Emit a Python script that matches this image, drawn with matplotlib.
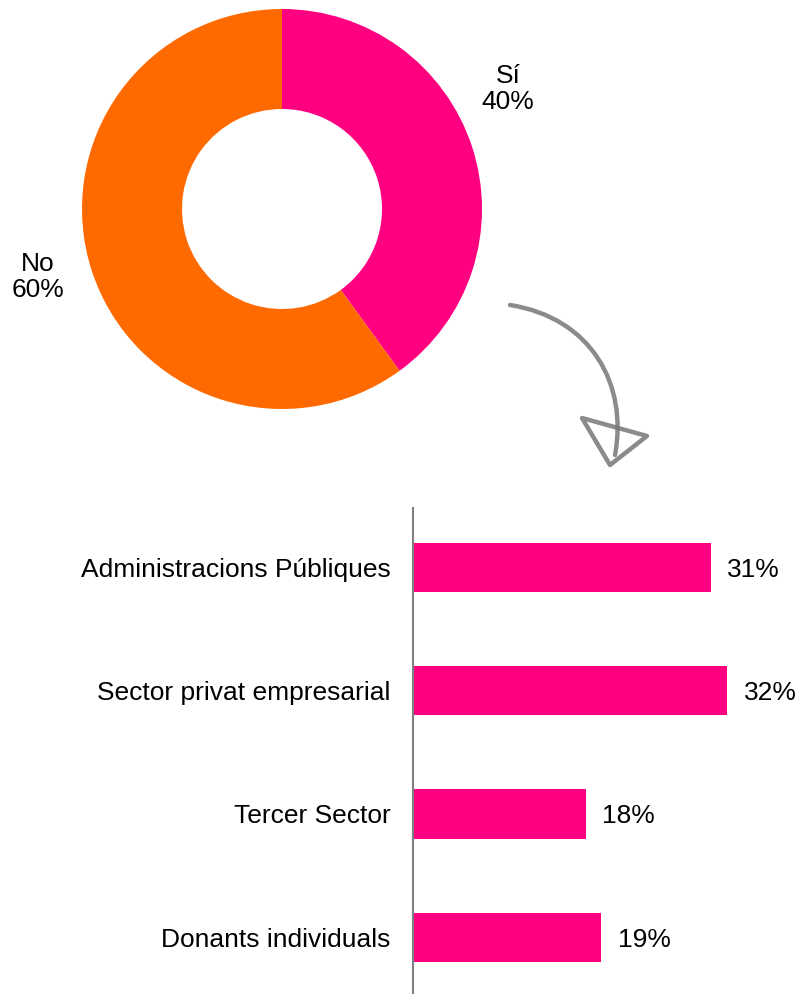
import matplotlib
matplotlib.use("Agg")
import matplotlib.pyplot as plt
from matplotlib.path import Path
from matplotlib.patches import PathPatch, Polygon

plt.rcParams['font.family'] = ['Liberation Sans', 'DejaVu Sans']

# donut data
pie_labels = ["Sí", "No"]
pie_values = [40, 60]
pie_colors = ["#FF0080", "#FF6A00"]

# bar data (bar lengths, labels rounded)
bar_labels = ["Administracions Públiques", "Sector privat empresarial",
              "Tercer Sector", "Donants individuals"]
bar_values = [30.7, 32.4, 17.8, 19.4]
bar_color = "#FF0080"

W, H = 801, 994
fig = plt.figure(figsize=(W / 100, H / 100), dpi=100)

# donut
ax1 = fig.add_axes([82 / W, (H - 409) / H, 400 / W, 400 / H])
ax1.pie(pie_values, colors=pie_colors, startangle=90, counterclock=False,
        radius=1, wedgeprops=dict(width=0.5, linewidth=0))
ax1.set_xlim(-1, 1)
ax1.set_ylim(-1, 1)
ax1.text(1.13, 0.6, f"{pie_labels[0]}\n{pie_values[0]}%", ha="center", va="center",
         fontsize=19, linespacing=1.1)
ax1.text(-1.22, -0.34, f"{pie_labels[1]}\n{pie_values[1]}%", ha="center", va="center",
         fontsize=19, linespacing=1.1)

# bars
ax2 = fig.add_axes([413 / W, 0, (W - 413) / W, (H - 508) / H])
ys = list(range(len(bar_values)))
ax2.barh(ys, bar_values, height=0.4, color=bar_color)
ax2.set_xlim(0, 40)
ax2.set_ylim(3.46, -0.48)
for y, v in zip(ys, bar_values):
    ax2.text(v + 1.7, y + 0.02, f"{round(v)}%", va="center", ha="left", fontsize=19)
ax2.set_yticks(ys)
ax2.set_yticklabels(bar_labels, fontsize=19)
ax2.tick_params(axis="y", length=0, pad=16)
ax2.set_xticks([])
for s in ["top", "right", "bottom"]:
    ax2.spines[s].set_visible(False)
ax2.spines["left"].set_color("#808080")
ax2.spines["left"].set_linewidth(1.5)

# hand-drawn style arrow (decoration), figure pixel coords
def px(x, y):
    return (x / W, 1 - y / H)

curve = Path([px(510, 305), px(592, 318), px(628, 385), px(615, 455)],
             [Path.MOVETO, Path.CURVE4, Path.CURVE4, Path.CURVE4])
fig.patches.append(PathPatch(curve, transform=fig.transFigure, fill=False,
                             edgecolor="#777777", linewidth=3.2, alpha=0.85,
                             capstyle="round"))
fig.patches.append(Polygon([px(582, 418), px(647, 436), px(610, 465)], closed=True,
                           transform=fig.transFigure, fill=False,
                           edgecolor="#777777", linewidth=3.2, alpha=0.85,
                           joinstyle="round"))

fig.savefig("out.png", dpi=100)
